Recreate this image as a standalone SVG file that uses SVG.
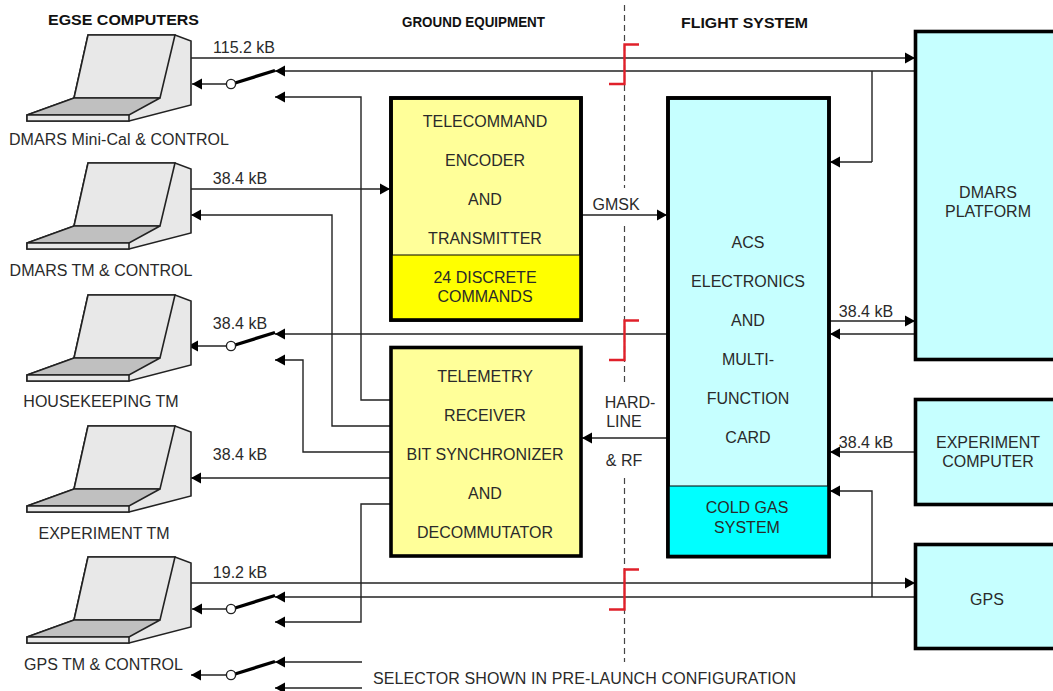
<svg xmlns="http://www.w3.org/2000/svg" width="1053" height="691" viewBox="0 0 1053 691">
<style>
text{font-family:"Liberation Sans",Arial,sans-serif;font-size:16px;fill:#2a2a2a;text-anchor:middle}
.h{font-weight:bold;font-size:15px;fill:#111}
.l{fill:none;stroke:#222;stroke-width:1.4}
.r{fill:none;stroke:#e0202a;stroke-width:2.4}
.b{stroke:#000;stroke-width:3.6}
.c{fill:#c6ffff}.y{fill:#ffff99}
.sw{fill:none;stroke:#000;stroke-width:3.4}
.k{fill:#fff;stroke:#222;stroke-width:1.4}
.d{fill:none;stroke:#444;stroke-width:1.2;stroke-dasharray:6 4}
.s1{fill:#e8e8e8;stroke:#222;stroke-width:1.6;stroke-linejoin:miter}
.s2{fill:#c0c0c0;stroke:#222;stroke-width:1.6}
</style>
<defs>
<marker id="a" markerUnits="userSpaceOnUse" markerWidth="11" markerHeight="12" refX="10" refY="6" orient="auto"><path d="M0 0.5L10 6L0 11.5Z" fill="#000"/></marker>
<g id="pc">
<path class="s1" d="M88 35H175L191 41V105L129 121H27V115L74 98Z"/>
<path class="s1" d="M88 35H175L160 98H74Z"/>
<path class="s2" d="M27 115L74 98H160L129 115Z"/>
<path class="s1" d="M27 115H129V121H27Z"/>
</g>
<g id="swg"><path class="sw" d="M235 83L275 70.5"/><circle class="k" cx="231" cy="84" r="4.6"/></g>
</defs>
<rect width="1053" height="691" fill="#fff"/>
<g id="connectors">
<path class="d" d="M624.500 5V188M624.500 226V385M624.500 478V662"/>
<path class="l" marker-end="url(#a)" d="M191 58H915"/>
<path class="l" marker-end="url(#a)" d="M915 71H275"/>
<path class="l" marker-end="url(#a)" d="M226 84H192"/>
<path class="l" marker-end="url(#a)" d="M390 400H361V97H275"/>
<path class="l" d="M872 71V162"/>
<path class="l" marker-end="url(#a)" d="M872 162H830"/>
<path class="l" marker-end="url(#a)" d="M191 189H390"/>
<path class="l" marker-end="url(#a)" d="M390 426H332V215H191"/>
<path class="l" marker-end="url(#a)" d="M582 215H667"/>
<path class="l" marker-end="url(#a)" d="M667 334H275"/>
<path class="l" marker-end="url(#a)" d="M226 346H188"/>
<path class="l" marker-end="url(#a)" d="M390 452H303V360H275"/>
<path class="l" marker-end="url(#a)" d="M390 478H191"/>
<path class="l" marker-end="url(#a)" d="M667 438H582"/>
<path class="l" marker-end="url(#a)" d="M830 321H915"/>
<path class="l" marker-end="url(#a)" d="M915 334H830"/>
<path class="l" marker-end="url(#a)" d="M915 452H830"/>
<path class="l" marker-end="url(#a)" d="M872 597V491H830"/>
<path class="l" marker-end="url(#a)" d="M187 583H915"/>
<path class="l" marker-end="url(#a)" d="M915 597H275"/>
<path class="l" marker-end="url(#a)" d="M226 609H192"/>
<path class="l" marker-end="url(#a)" d="M390 504H361V622H275"/>
<path class="l" marker-end="url(#a)" d="M362 662H275"/>
<path class="l" marker-end="url(#a)" d="M226 675H191"/>
<path class="l" marker-end="url(#a)" d="M362 688H275"/>
<path class="r" d="M639 44.500H624.500V84H609"/>
<path class="r" d="M639 320.500H624.500V360H609"/>
<path class="r" d="M639 569.500H624.500V609.500H609"/>
<use href="#swg"/>
<use href="#swg" y="262"/>
<use href="#swg" y="525"/>
<use href="#swg" y="591"/>
</g>
<text class="h" x="123.500" y="25" textLength="151" lengthAdjust="spacingAndGlyphs">EGSE COMPUTERS</text>
<text class="h" x="473.500" y="27" textLength="143" lengthAdjust="spacingAndGlyphs">GROUND EQUIPMENT</text>
<text class="h" x="744.500" y="28" textLength="127" lengthAdjust="spacingAndGlyphs">FLIGHT SYSTEM</text>
<g id="pc1"><use href="#pc"/><text x="119" y="145" textLength="220">DMARS Mini-Cal &amp; CONTROL</text></g>
<g id="pc2"><use href="#pc" y="128"/><text x="101" y="276">DMARS TM &amp; CONTROL</text></g>
<g id="pc3"><use href="#pc" y="260"/><text x="101" y="407">HOUSEKEEPING TM</text></g>
<g id="pc4"><use href="#pc" y="391"/><text x="104" y="539">EXPERIMENT TM</text></g>
<g id="pc5"><use href="#pc" y="522"/><text x="103.500" y="670">GPS TM &amp; CONTROL</text></g>
<g id="labels">
<text x="244" y="53">115.2 kB</text>
<text x="240" y="184">38.4 kB</text>
<text x="240" y="329">38.4 kB</text>
<text x="240" y="460">38.4 kB</text>
<text x="240" y="578">19.2 kB</text>
<text x="616" y="210">GMSK</text>
<text x="630" y="408">HARD-</text>
<text x="624" y="427">LINE</text>
<text x="624" y="466">&amp; RF</text>
<text x="866" y="317">38.4 kB</text>
<text x="866" y="448">38.4 kB</text>
<text x="584.500" y="684" textLength="423">SELECTOR SHOWN IN PRE-LAUNCH CONFIGURATION</text>
</g>
<g id="telecommand">
<rect class="b y" x="391" y="98" width="190" height="222"/>
<path d="M391 255H581V320H391Z" fill="#ffff00" stroke="#000" stroke-width="1"/>
<rect x="391" y="98" width="190" height="222" fill="none" class="b"/>
<text x="485" y="127">TELECOMMAND</text><text x="485" y="166">ENCODER</text><text x="485" y="205">AND</text><text x="485" y="244">TRANSMITTER</text>
<text x="485" y="283">24 DISCRETE</text><text x="485" y="302">COMMANDS</text>
</g>
<g id="telemetry">
<rect class="b y" x="391" y="347.500" width="190" height="208.500"/>
<text x="485" y="382">TELEMETRY</text><text x="485" y="421">RECEIVER</text><text x="485" y="460">BIT SYNCHRONIZER</text><text x="485" y="499">AND</text><text x="485" y="538">DECOMMUTATOR</text>
</g>
<g id="acs">
<rect class="b c" x="668" y="98" width="161" height="458.500"/>
<path d="M668 486H829V556.500H668Z" fill="#00ffff" stroke="#000" stroke-width="1"/>
<rect x="668" y="98" width="161" height="458.500" fill="none" class="b"/>
<text x="748" y="248">ACS</text><text x="748" y="287">ELECTRONICS</text><text x="748" y="326">AND</text><text x="748" y="365">MULTI-</text><text x="748" y="404">FUNCTION</text><text x="748" y="443">CARD</text>
<text x="747" y="513">COLD GAS</text><text x="747" y="533">SYSTEM</text>
</g>
<g id="dmars"><rect class="b c" x="915.500" y="31.500" width="145" height="328"/><text x="988" y="198">DMARS</text><text x="988" y="217">PLATFORM</text></g>
<g id="experiment"><rect class="b c" x="915.500" y="399.500" width="145" height="105"/><text x="988" y="448">EXPERIMENT</text><text x="988" y="467">COMPUTER</text></g>
<g id="gps"><rect class="b c" x="915.500" y="544.500" width="145" height="104"/><text x="987" y="605">GPS</text></g>
</svg>
